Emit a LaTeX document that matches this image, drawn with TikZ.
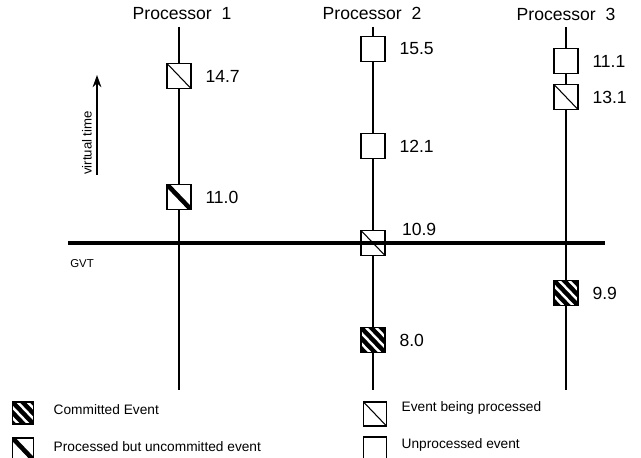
\documentclass[tikz,border=0pt]{standalone}
\usepackage{fontspec}
\setmainfont{Liberation Sans}
\usetikzlibrary{positioning, arrows.meta}

\begin{document}
\begin{tikzpicture}[>={Stealth[length=7pt,width=5pt]}, node distance=0.15cm,
    evbox/.style={draw, line width=0.9pt, fill=white, minimum width=0.48cm, minimum height=0.5cm, inner sep=0pt},
    unproc/.style={evbox},
    busy/.style={evbox, path picture={\draw[line width=0.6pt] (path picture bounding box.north west) -- (path picture bounding box.south east);}},
    uncommit/.style={evbox, path picture={\draw[line width=2.6pt] (path picture bounding box.north west) -- (path picture bounding box.south east);}},
    commit/.style={evbox, path picture={
        \fill[black] (path picture bounding box.south west) rectangle (path picture bounding box.north east);
        \foreach \d in {-0.3,-0.1,0.1,0.3}
            \draw[white, line width=1.4pt] ([xshift=\d cm]path picture bounding box.north west) -- ([xshift=\d cm]path picture bounding box.south east);}},
    tline/.style={line width=0.8pt},
    proc/.style={font=\fontsize{10}{12}\selectfont},
    val/.style={font=\fontsize{10}{12}\selectfont},
    leg/.style={font=\fontsize{7.8}{9}\selectfont, anchor=west}]
    \useasboundingbox (0,0) rectangle (12.82,9.16);

    % processors and their time lines
    \node[proc] (P1) at (3.64,8.88) {Processor\ \ 1};
    \node[proc] (P2) at (7.44,8.90) {Processor\ \ 2};
    \node[proc] (P3) at (11.32,8.88) {Processor\ \ 3};
    \coordinate (t1) at (3.58,8.62); \coordinate (b1) at (3.58,1.36);
    \coordinate (t2) at (7.46,8.62); \coordinate (b2) at (7.46,1.36);
    \coordinate (t3) at (11.32,8.62); \coordinate (b3) at (11.32,1.36);
    \draw[tline] (t1) -- (b1);
    \draw[tline] (t2) -- (b2);
    \draw[tline] (t3) -- (b3);

    % events
    \node[busy] (e147) at (3.58,7.64) {};
    \node[val, right=of e147] (l147) {14.7};
    \node[uncommit] (e110) at (3.58,5.22) {};
    \node[val, right=of e110] (l110) {11.0};

    \node[unproc] (e155) at (7.46,8.18) {};
    \node[val, right=of e155] (l155) {15.5};
    \node[unproc] (e121) at (7.46,6.24) {};
    \node[val, right=of e121] (l121) {12.1};
    \node[busy] (e109) at (7.46,4.30) {};
    \node[val, right=0.2cm of e109.north east] (l109) {10.9};
    \node[commit] (e80) at (7.46,2.36) {};
    \node[val, right=of e80] (l80) {8.0};

    \node[unproc] (e111) at (11.32,7.94) {};
    \node[val, right=of e111] (l111) {11.1};
    \node[busy] (e131) at (11.32,7.22) {};
    \node[val, right=of e131] (l131) {13.1};
    \node[commit] (e99) at (11.32,3.30) {};
    \node[val, right=of e99] (l99) {9.9};

    % GVT
    \coordinate (g0) at (1.36,4.30); \coordinate (g1) at (12.1,4.30);
    \draw[line width=2.6pt] (g0) -- (g1);
    \node[font=\fontsize{6.5}{8}\selectfont] (gvt) at (1.64,3.88) {GVT};

    % virtual time arrow
    \coordinate (v0) at (1.94,5.66); \coordinate (v1) at (1.94,7.66);
    \draw[->, line width=0.8pt] (v0) -- (v1);
    \node[font=\fontsize{7.5}{9}\selectfont, rotate=90] (vt) at (1.74,6.30) {virtual time};

    % legend
    \node[commit, minimum width=0.42cm, minimum height=0.44cm] (k1) at (0.46,0.90) {};
    \node[leg] (k1t) at (0.95,0.96) {Committed Event};
    \node[uncommit, minimum width=0.42cm, minimum height=0.44cm] (k2) at (0.46,0.18) {};
    \node[leg] (k2t) at (0.95,0.22) {Processed but uncommitted event};
    \node[busy, minimum width=0.46cm, minimum height=0.48cm] (k3) at (7.50,0.88) {};
    \node[leg] (k3t) at (7.91,1.00) {Event being processed};
    \node[unproc, minimum width=0.46cm, minimum height=0.48cm] (k4) at (7.50,0.18) {};
    \node[leg] (k4t) at (7.91,0.26) {Unprocessed event};
\end{tikzpicture}
\end{document}
